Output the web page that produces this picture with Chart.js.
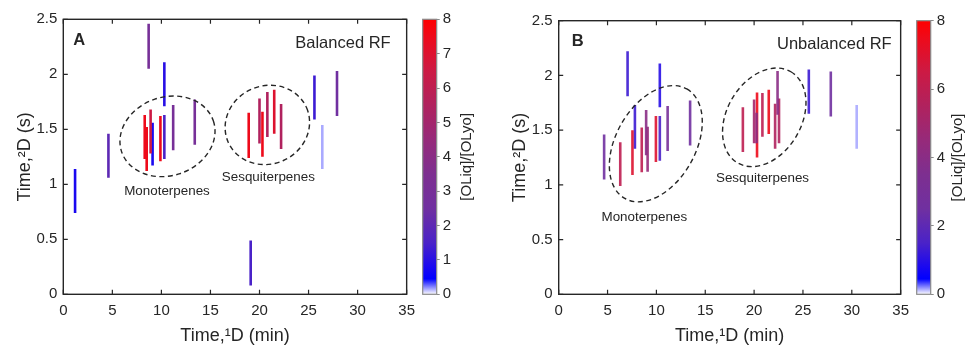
<!DOCTYPE html>
<html>
<head>
<meta charset="utf-8">
<title>OLiq / OLyo ratio, GCxGC</title>
<script src="https://cdn.jsdelivr.net/npm/chart.js@4.4.1/dist/chart.umd.min.js"></script>
<style>
  body { margin: 0; background: #fff; }
  #wrap { position: relative; width: 967px; height: 350px; overflow: hidden; }
  canvas { position: absolute; top: 0; }
</style>
</head>
<body>
<div id="wrap">
  <canvas id="plotA" width="423" height="350" style="left:0px"></canvas>
  <canvas id="barA" width="70" height="350" style="left:410px"></canvas>
  <canvas id="plotB" width="422" height="350" style="left:495px"></canvas>
  <canvas id="barB" width="62" height="350" style="left:905px"></canvas>
</div>
<script>
// ---- data ----
// panel A (balanced RF): 1D time (min), 2D peak top/bottom (s), ratio [OLiq]/[OLyo]
const aX     = [1.2, 4.6, 8.3, 8.5, 8.7, 8.9, 9.1, 9.9, 10.3, 10.3, 11.2, 13.4, 18.9, 19.1, 20.0, 20.3, 20.8, 21.5, 22.2, 25.6, 26.4, 27.9];
const aTop   = [1.14, 1.46, 1.63, 1.52, 2.46, 1.68, 1.56, 1.62, 2.11, 1.63, 1.72, 1.77, 1.65, 0.49, 1.78, 1.66, 1.84, 1.86, 1.73, 1.99, 1.54, 2.03];
const aBot   = [0.74, 1.06, 1.23, 1.12, 2.05, 1.28, 1.17, 1.21, 1.71, 1.23, 1.31, 1.36, 1.24, 0.08, 1.37, 1.25, 1.43, 1.46, 1.32, 1.59, 1.14, 1.62];
const aRatio = [0.8, 2.0, 7.5, 7.5, 3.0, 6.5, 0.8, 7.5, 1.0, 1.5, 3.0, 3.0, 7.5, 1.5, 5.5, 7.5, 5.5, 7.0, 5.5, 1.3, 0.15, 2.5];

// panel B (unbalanced RF)
const bX     = [4.65, 6.3, 7.05, 7.55, 7.8, 8.5, 8.95, 9.1, 9.95, 10.35, 10.35, 11.15, 13.45, 18.85, 20.0, 20.25, 20.3, 20.85, 21.5, 22.15, 22.4, 22.55, 25.6, 27.85, 30.5];
const bTop   = [1.46, 1.39, 2.22, 1.50, 1.73, 1.525, 1.685, 1.53, 1.63, 2.11, 1.63, 1.72, 1.77, 1.71, 1.78, 1.66, 1.845, 1.84, 1.87, 1.74, 2.04, 1.79, 2.055, 2.035, 1.73];
const bBot   = [1.05, 0.99, 1.81, 1.09, 1.33, 1.115, 1.27, 1.12, 1.21, 1.71, 1.22, 1.31, 1.36, 1.30, 1.38, 1.38, 1.25, 1.44, 1.465, 1.33, 1.64, 1.38, 1.65, 1.625, 1.33];
const bRatio = [2.5, 6.0, 1.3, 7.0, 1.3, 6.0, 4.0, 4.5, 7.0, 1.0, 1.5, 3.0, 2.5, 6.0, 5.0, 4.0, 7.5, 6.0, 7.5, 5.5, 4.0, 5.5, 1.3, 2.5, 0.15];

// group annotations: dashed ellipses (centre in data units, radii px, rotation deg)
const aGroups = [
  { cx: 10.62, cy: 1.436, rx: 48.4, ry: 39.3, rot: -18.7 },
  { cx: 20.80, cy: 1.540, rx: 42.8, ry: 39.1, rot: -23.5 }
];
const bGroups = [
  { cx: 9.94,  cy: 1.376, rx: 62.9, ry: 39.8, rot: -60.5 },
  { cx: 21.04, cy: 1.617, rx: 52.8, ry: 37.2, rot: -59.7 }
];
const aGroupLabels = [{ text: 'Monoterpenes', x: 10.57, y: 0.94 }, { text: 'Sesquiterpenes', x: 20.9, y: 1.06 }];
const bGroupLabels = [{ text: 'Monoterpenes', x: 8.76, y: 0.707 }, { text: 'Sesquiterpenes', x: 20.86, y: 1.062 }];

// colormap white -> blue -> purple -> red, ratio 0..8
const cmap = [
  [0, [255, 255, 255]], [0.45, [0, 0, 255]], [0.8, [26, 8, 240]], [1.5, [74, 34, 200]],
  [2.5, [112, 48, 160]], [3.5, [125, 47, 144]], [4.5, [150, 42, 122]], [5.5, [176, 34, 94]],
  [6.5, [204, 26, 68]], [7.5, [238, 10, 26]], [8, [255, 0, 0]]
];

const FONT = 'Arial, "Liberation Sans", sans-serif';
const INK = '#262626';

function ratioColor(v, alpha){
  let i = 0;
  while(i < cmap.length - 2 && v > cmap[i+1][0]) i++;
  const [v0, c0] = cmap[i], [v1, c1] = cmap[i+1];
  const t = Math.max(0, Math.min(1, (v - v0) / (v1 - v0)));
  const c = c0.map((ch, k) => Math.round(ch + (c1[k] - ch) * t));
  return `rgba(${c[0]},${c[1]},${c[2]},${alpha})`;
}

// matlab style tick text: 1 not 1.0
function tickText(v){ return String(Math.round(v * 10) / 10); }

function segments(xs, tops, bots, ratios, alpha){
  return xs.map((x, i) => ({
    data: [{ x: x, y: tops[i] }, { x: x, y: bots[i] }],
    borderColor: ratioColor(ratios[i], alpha),
    borderWidth: 2.6,
    borderCapStyle: 'butt',
    pointRadius: 0,
    fill: false
  }));
}

function makePlot(id, cfg){
  // box, inward ticks, ellipses and texts
  const decor = {
    id: 'decor',
    afterDatasetsDraw(chart){
      const { ctx, chartArea: a, scales: { x, y } } = chart;
      ctx.save();
      ctx.strokeStyle = INK;
      ctx.setLineDash([5, 3.5]);
      ctx.lineWidth = 1.4;
      for(const e of cfg.groups){
        ctx.beginPath();
        ctx.ellipse(x.getPixelForValue(e.cx), y.getPixelForValue(e.cy), e.rx, e.ry, e.rot * Math.PI / 180, 0, 2 * Math.PI);
        ctx.stroke();
      }
      ctx.setLineDash([]);
      ctx.fillStyle = INK;
      ctx.font = '13.4px ' + FONT;
      ctx.textAlign = 'center';
      ctx.textBaseline = 'middle';
      for(const l of cfg.labels){
        ctx.fillText(l.text, x.getPixelForValue(l.x), y.getPixelForValue(l.y));
      }
      ctx.font = 'bold 16.5px ' + FONT;
      ctx.textAlign = 'left';
      ctx.fillText(cfg.letter, a.left + cfg.letterDx, a.top + 21);
      ctx.font = '16.5px ' + FONT;
      ctx.textAlign = 'right';
      ctx.fillText(cfg.title, a.right - cfg.titleDx, a.top + 24);

      // axes box with ticks on all four sides, pointing inward
      ctx.lineWidth = 1.4;
      ctx.strokeRect(a.left, a.top, a.right - a.left, a.bottom - a.top);
      ctx.lineWidth = 1.2;
      ctx.beginPath();
      for(const t of x.ticks){
        const px = x.getPixelForValue(t.value);
        ctx.moveTo(px, a.bottom); ctx.lineTo(px, a.bottom - 4.5);
        ctx.moveTo(px, a.top);    ctx.lineTo(px, a.top + 4.5);
      }
      for(const t of y.ticks){
        const py = y.getPixelForValue(t.value);
        ctx.moveTo(a.left, py);  ctx.lineTo(a.left + 4.5, py);
        ctx.moveTo(a.right, py); ctx.lineTo(a.right - 4.5, py);
      }
      ctx.stroke();
      ctx.restore();
    }
  };

  return new Chart(document.getElementById(id), {
    type: 'line',
    data: { datasets: segments(cfg.xs, cfg.tops, cfg.bots, cfg.ratios, cfg.alpha) },
    options: {
      responsive: false,
      animation: false,
      // right edge is set by the last x label overhang (~16px), so no extra padding
      layout: { padding: { top: cfg.padTop, right: 0, left: 0, bottom: 0 } },
      plugins: { legend: { display: false }, tooltip: { enabled: false } },
      scales: {
        x: {
          type: 'linear', min: 0, max: 35,
          ticks: { stepSize: 5, color: INK, font: { family: FONT, size: 15 }, padding: 8, maxRotation: 0, callback: tickText },
          grid: { display: false, drawTicks: false },
          border: { display: false },
          title: { display: true, text: 'Time,\u00B9D (min)', color: INK, font: { family: FONT, size: 18 }, padding: { top: 0, bottom: 3 } },
          afterFit(s){ s.height = 350 - cfg.plotBottom; }
        },
        y: {
          type: 'linear', min: 0, max: 2.5,
          ticks: { stepSize: 0.5, color: INK, font: { family: FONT, size: 15 }, padding: 6, callback: tickText },
          grid: { display: false, drawTicks: false },
          border: { display: false },
          title: { display: true, text: 'Time,\u00B2D (s)', color: INK, font: { family: FONT, size: 18 }, padding: { top: cfg.yTitlePad, bottom: 0 } },
          afterFit(s){ s.width = cfg.yWidth; }
        }
      }
    },
    plugins: [decor]
  });
}

function makeColorbar(id, cfg){
  const fillBar = {
    id: 'fillBar',
    beforeDatasetsDraw(chart){
      const { ctx, chartArea: a, scales: { y } } = chart;
      const g = ctx.createLinearGradient(0, y.getPixelForValue(0), 0, y.getPixelForValue(8));
      for(const [v, c] of cmap) g.addColorStop(v / 8, `rgb(${c[0]},${c[1]},${c[2]})`);
      ctx.save();
      ctx.fillStyle = g;
      ctx.fillRect(a.left, a.top, a.right - a.left, a.bottom - a.top);
      ctx.strokeStyle = '#8a8a8a';
      ctx.lineWidth = 1.2;
      ctx.strokeRect(a.left, a.top, a.right - a.left, a.bottom - a.top);
      ctx.fillStyle = INK;
      ctx.font = '15px ' + FONT;
      ctx.textAlign = 'center';
      ctx.textBaseline = 'middle';
      ctx.translate(cfg.labelX, (a.top + a.bottom) / 2);
      ctx.rotate(-Math.PI / 2);
      ctx.fillText('[OLiq]/[OLyo]', 0, 0);
      ctx.restore();
    }
  };
  return new Chart(document.getElementById(id), {
    type: 'line',
    data: { datasets: [] },
    options: {
      responsive: false,
      animation: false,
      layout: { padding: { top: cfg.padTop, left: cfg.barLeft, right: 0, bottom: 350 - cfg.plotBottom } },
      plugins: { legend: { display: false }, tooltip: { enabled: false } },
      scales: {
        x: { display: false, min: 0, max: 1 },
        y: {
          position: 'right', min: 0, max: 8,
          ticks: { stepSize: cfg.step, color: INK, font: { family: FONT, size: 15 }, padding: 3 },
          grid: { drawOnChartArea: false, drawTicks: true, tickLength: 3, color: '#8a8a8a', lineWidth: 1 },
          border: { display: false },
          afterFit(s){ s.width = cfg.width - cfg.barLeft - 14; }
        }
      }
    },
    plugins: [fillBar]
  });
}

makePlot('plotA', {
  xs: aX, tops: aTop, bots: aBot, ratios: aRatio, alpha: 1,
  groups: aGroups, labels: aGroupLabels, letter: 'A', title: 'Balanced RF',
  letterDx: 10, titleDx: 16,
  padTop: 19.3, yWidth: 63.3, plotBottom: 294.3, yTitlePad: 14
});
makeColorbar('barA', { width: 70, barLeft: 12.7, padTop: 19.3, plotBottom: 294.3, step: 1, labelX: 56.7 });

makePlot('plotB', {
  xs: bX, tops: bTop, bots: bBot, ratios: bRatio, alpha: 0.9,
  groups: bGroups, labels: bGroupLabels, letter: 'B', title: 'Unbalanced RF',
  letterDx: 13, titleDx: 9,
  padTop: 20.7, yWidth: 63.7, plotBottom: 294.3, yTitlePad: 14
});
makeColorbar('barB', { width: 62, barLeft: 11.7, padTop: 20.7, plotBottom: 294.3, step: 2, labelX: 53 });
</script>
</body>
</html>
